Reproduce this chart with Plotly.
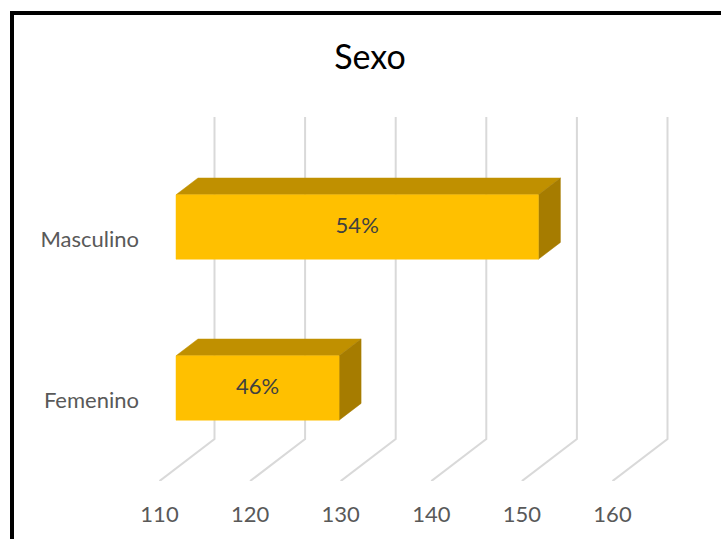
import plotly.graph_objects as go

# ---- data ----
categories = ["Femenino", "Masculino"]
values = [128, 150]
labels = ["46%", "54%"]
tick_values = [110, 120, 130, 140, 150, 160]
axis_min = 110
title_text = "Sexo"

# ---- layout / styling constants ----
W, H = 721, 539
PX_PER_UNIT = 9.06          # pixels per x data unit (front plane)
PX_PER_CAT = 161.0          # pixels per category step
PLOT_LEFT, PLOT_TOP, PLOT_BOTTOM = 140, 90, 481
X_AT_MIN = 159.5            # pixel of axis_min on front plane
Y_CAT0 = 400.6              # pixel of category 0 on front plane
DEPTH_X = 55 / PX_PER_UNIT  # full depth offset in x units
DEPTH_Y = 42 / PX_PER_CAT   # full depth offset in y units
BAR_HALF = 0.2
D0, D1 = 0.3, 0.7
FRONT, TOP, SIDE = "#FFC000", "#C09000", "#A67C00"
GRID = "#D9D9D9"
FONT = "Lato"

x_range = [axis_min - (X_AT_MIN - PLOT_LEFT) / PX_PER_UNIT,
           axis_min + (W - X_AT_MIN) / PX_PER_UNIT]
y_lo = -(PLOT_BOTTOM - Y_CAT0) / PX_PER_CAT
y_hi = (Y_CAT0 - PLOT_TOP) / PX_PER_CAT


def proj(v, y, d):
    return v + d * DEPTH_X, y + d * DEPTH_Y


fig = go.Figure()

# gridlines: back wall verticals + floor diagonals
floor_y = -0.5
wall_top = len(categories) - 0.5
for t in tick_values:
    xs, ys = [], []
    for (v, y, d) in [(t, floor_y, 0), (t, floor_y, 1), (t, wall_top, 1)]:
        px, py = proj(v, y, d)
        xs.append(px)
        ys.append(py)
    fig.add_trace(go.Scatter(x=xs, y=ys, mode="lines",
                             line=dict(color=GRID, width=2),
                             hoverinfo="skip", showlegend=False))

# bars
for i, (cat, v, lab) in enumerate(zip(categories, values, labels)):
    yb, yt = i - BAR_HALF, i + BAR_HALF
    # top face
    pts = [proj(axis_min, yt, D0), proj(v, yt, D0), proj(v, yt, D1), proj(axis_min, yt, D1)]
    fig.add_trace(go.Scatter(x=[p[0] for p in pts] + [pts[0][0]],
                             y=[p[1] for p in pts] + [pts[0][1]],
                             mode="lines", fill="toself", fillcolor=TOP,
                             line=dict(width=0.5, color=TOP),
                             hoverinfo="skip", showlegend=False))
    # side face
    pts = [proj(v, yb, D0), proj(v, yt, D0), proj(v, yt, D1), proj(v, yb, D1)]
    fig.add_trace(go.Scatter(x=[p[0] for p in pts] + [pts[0][0]],
                             y=[p[1] for p in pts] + [pts[0][1]],
                             mode="lines", fill="toself", fillcolor=SIDE,
                             line=dict(width=0.5, color=SIDE),
                             hoverinfo="skip", showlegend=False))
    # front face
    pts = [proj(axis_min, yb, D0), proj(v, yb, D0), proj(v, yt, D0), proj(axis_min, yt, D0)]
    fig.add_trace(go.Scatter(x=[p[0] for p in pts] + [pts[0][0]],
                             y=[p[1] for p in pts] + [pts[0][1]],
                             mode="lines", fill="toself", fillcolor=FRONT,
                             line=dict(width=0.5, color=FRONT),
                             hoverinfo="skip", showlegend=False))
    # data label
    cx, cy = proj((axis_min + v) / 2, i, D0)
    fig.add_trace(go.Scatter(x=[cx], y=[cy], mode="text", text=[lab],
                             textfont=dict(family=FONT, size=22, color="#404040"),
                             textposition="middle center",
                             hoverinfo="skip", showlegend=False))

fig.update_layout(
    width=W, height=H,
    margin=dict(l=0, r=0, t=0, b=0),
    paper_bgcolor="white", plot_bgcolor="rgba(0,0,0,0)",
    title=dict(text=title_text, x=370 / W, xanchor="center",
               y=1 - 57 / H, yanchor="middle", yref="container",
               font=dict(family=FONT, size=34, color="#000000")),
    xaxis=dict(domain=[PLOT_LEFT / W, 1], range=x_range,
               tickvals=tick_values, ticktext=[str(t) for t in tick_values],
               showgrid=False, zeroline=False, showline=False, ticks="",
               ticklabelstandoff=18,
               tickfont=dict(family=FONT, size=22, color="#595959")),
    yaxis=dict(domain=[(H - PLOT_BOTTOM) / H, 1 - PLOT_TOP / H], range=[y_lo, y_hi],
               tickvals=list(range(len(categories))), ticktext=categories,
               showgrid=False, zeroline=False, showline=False, ticks="",
               tickfont=dict(family=FONT, size=22, color="#595959")),
    shapes=[dict(type="rect", xref="paper", yref="paper",
                 x0=12 / W, x1=1.1, y0=-0.1, y1=1 - 13 / H,
                 line=dict(color="black", width=4), fillcolor="rgba(0,0,0,0)",
                 layer="above")],
)

fig.write_html("out.html")
